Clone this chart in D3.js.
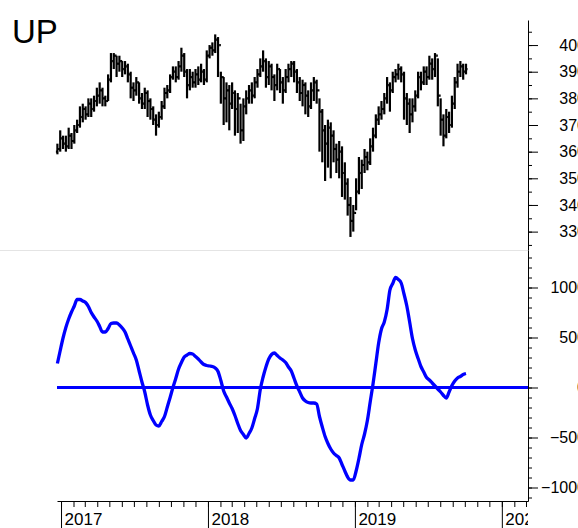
<!DOCTYPE html>
<meta charset="utf-8">
<style>

body {
    margin: 0;
    background: #fff;
}

text {
    font-family: 'Liberation Sans', Arial, sans-serif;
}

.axis text {
    font-size: 16px;
    fill: #000;
}

.axis path, .axis line {
    stroke: #000;
}

.year-axis text {
    font-size: 17px;
}

</style>
<svg id="chart" width="578" height="528"></svg>
<script src="https://d3js.org/d3.v7.min.js"></script>
<script>

    // weekly bars, first one on 23 Dec 2016
    var firstWeek = new Date(2016, 11, 23);

    var priceOpen = [
        360,361,365,363,362,366,364,368,370,373,
        376,374,378,376,379,381,383,380,379,387,
        394,396,393,394,391,392,389,384,383,386,
        380,378,382,379,376,372,370,373,377,382,
        383,388,390,388,392,396,390,385,388,386,
        389,387,390,387,396,399,398,402,400,388,
        380,383,378,382,376,380,368,377,380,383,
        381,386,389,392,394,388,392,388,385,391,
        386,383,388,391,393,390,386,382,385,381,
        377,383,386,383,375,368,363,369,366,361,
        357,360,352,348,340,334,337,345,352,355,
        358,356,362,366,372,374,376,380,385,383,
        388,389,391,389,380,378,374,377,381,388,
        386,390,388,393,391,396,381,372,366,373,
        370,378,386,390,392,390
    ];

    var priceHigh = [
        363,368,366,366,369,367,370,372,377,378,
        377,380,380,381,384,386,384,381,389,397,
        397,396,396,394,394,393,390,386,388,386,
        382,384,383,380,377,374,375,379,384,385,
        389,392,392,394,399,397,391,391,390,391,
        392,393,391,398,400,401,404,403,390,388,
        386,385,386,383,382,378,380,383,385,386,
        388,391,395,398,395,394,393,389,393,391,
        388,391,393,394,394,391,388,387,386,383,
        386,388,387,380,376,370,372,371,368,363,
        364,362,356,350,343,340,350,358,357,361,
        360,365,369,374,377,379,382,388,386,390,
        391,393,392,390,382,380,380,383,390,390,
        392,392,396,395,397,395,380,374,376,375,
        381,388,393,394,393,393
    ];

    var priceLow = [
        359,360,361,360,361,361,363,367,369,371,
        372,373,373,375,377,378,377,377,379,386,
        391,388,390,388,389,386,380,379,381,378,
        376,376,373,372,370,366,369,372,376,380,
        382,387,386,387,390,388,380,383,384,384,
        385,386,385,386,395,396,397,388,378,370,
        371,368,376,366,367,363,364,374,378,378,
        380,384,388,390,384,385,383,379,383,382,
        378,382,386,388,386,382,379,377,374,373,
        376,379,378,360,356,349,354,350,356,352,
        350,343,342,336,328,330,338,344,346,352,
        353,355,360,365,370,372,374,378,375,382,
        386,387,386,372,370,367,371,375,380,383,
        385,385,387,387,388,377,366,362,365,367,
        369,376,384,388,387,389
    ];

    var priceClose = [
        361,365,363,362,366,364,368,370,373,376,
        374,378,376,379,381,383,380,379,387,394,
        396,393,394,391,392,389,384,383,386,380,
        378,382,379,376,372,370,373,377,382,383,
        388,390,388,392,396,390,385,388,386,389,
        387,390,387,396,399,398,402,400,388,380,
        383,378,382,376,380,368,377,380,383,381,
        386,389,392,394,388,392,388,385,391,386,
        383,388,391,393,390,386,382,385,381,377,
        383,386,383,375,368,363,369,366,361,357,
        360,352,348,340,334,337,345,352,355,358,
        356,362,366,372,374,376,380,385,383,388,
        389,391,389,380,378,374,377,381,388,386,
        390,388,393,391,396,381,372,366,373,370,
        378,386,390,392,390,391
    ];

    var oscValue = [
        240,370,495,600,685,755,815,880,880,865,
        850,810,750,705,665,610,555,555,590,640,
        645,645,625,595,555,485,415,345,275,165,
        55,-45,-175,-275,-330,-375,-385,-340,-290,-195,
        -100,0,90,185,250,305,325,340,335,310,
        285,255,230,220,215,210,195,160,70,-35,
        -95,-155,-210,-280,-360,-430,-470,-505,-460,-405,
        -310,-210,-20,105,205,285,330,345,320,295,
        275,250,205,165,90,15,-45,-105,-135,-150,
        -155,-155,-165,-290,-395,-490,-560,-615,-655,-680,
        -705,-770,-835,-895,-925,-925,-835,-710,-570,-465,
        -330,-145,35,240,445,585,655,780,975,1040,
        1100,1080,1045,935,815,655,490,375,290,210,
        155,100,75,45,15,-15,-45,-80,-105,-45,
        20,65,95,110,130,140
    ];

    var priceTicks = [330, 340, 350, 360, 370, 380, 390, 400];
    var oscTicks = [-1000, -500, 0, 500, 1000];
    var yearTicks = [2017, 2018, 2019, 2020];

    var weeks = priceClose.map(function(d, i) { return d3.timeDay.offset(firstWeek, 7 * i); });

    var svg = d3.select("#chart");

    var x = d3.scaleTime()
        .domain([new Date(2016, 11, 22), new Date(2020, 2, 6)])
        .range([57, 528]);

    var yPrice = d3.scaleLinear().domain([323.1, 409.4]).range([250, 20]);
    var yOsc = d3.scaleLinear().domain([-1135, 1375]).range([501, 250]);

    // title
    svg.append("text")
        .attr("x", 12)
        .attr("y", 43)
        .style("font-size", "33px")
        .text("UP");

    // light line between the panels
    svg.append("line")
        .attr("x1", 0)
        .attr("x2", x.range()[1])
        .attr("y1", yPrice.range()[0] + 0.5)
        .attr("y2", yPrice.range()[0] + 0.5)
        .attr("stroke", "#e4e4e4");

    // price bars
    var bars = svg.append("g")
        .attr("stroke", "#000")
        .attr("stroke-width", 2.2);

    bars.selectAll(".hl")
        .data(weeks)
        .enter().append("line")
        .attr("class", "hl")
        .attr("x1", function(d) { return x(d); })
        .attr("x2", function(d) { return x(d); })
        .attr("y1", function(d, i) { return yPrice(priceHigh[i]); })
        .attr("y2", function(d, i) { return yPrice(priceLow[i]); });

    bars.selectAll(".op")
        .data(weeks)
        .enter().append("line")
        .attr("class", "op")
        .attr("x1", function(d) { return x(d) - 1.5; })
        .attr("x2", function(d) { return x(d); })
        .attr("y1", function(d, i) { return yPrice(priceOpen[i]); })
        .attr("y2", function(d, i) { return yPrice(priceOpen[i]); });

    bars.selectAll(".cl")
        .data(weeks)
        .enter().append("line")
        .attr("class", "cl")
        .attr("x1", function(d) { return x(d); })
        .attr("x2", function(d) { return x(d) + 1.5; })
        .attr("y1", function(d, i) { return yPrice(priceClose[i]); })
        .attr("y2", function(d, i) { return yPrice(priceClose[i]); });

    // oscillator
    svg.append("line")
        .attr("x1", x.range()[0])
        .attr("x2", x.range()[1])
        .attr("y1", yOsc(0))
        .attr("y2", yOsc(0))
        .attr("stroke", "#0000ff")
        .attr("stroke-width", 3);

    var oscLine = d3.line()
        .x(function(d, i) { return x(weeks[i]); })
        .y(function(d) { return yOsc(d); })
        .curve(d3.curveMonotoneX);

    svg.append("path")
        .datum(oscValue)
        .attr("d", oscLine)
        .attr("fill", "none")
        .attr("stroke", "#0000ff")
        .attr("stroke-width", 3.3)
        .attr("stroke-linejoin", "round");

    // right axes
    var rightX = x.range()[1];

    svg.append("g")
        .attr("class", "axis")
        .attr("transform", "translate(" + rightX + ",0)")
        .call(d3.axisRight(yPrice).tickValues(d3.range(325, 410, 5)).tickSize(4).tickFormat(""))
        .select(".domain").remove();

    var priceAxis = svg.append("g")
        .attr("class", "axis")
        .attr("transform", "translate(" + rightX + ",0)")
        .call(d3.axisRight(yPrice).tickValues(priceTicks).tickSize(10).tickSizeOuter(0).tickFormat(d3.format("d")));
    priceAxis.selectAll("text").attr("x", 58).attr("text-anchor", "end");

    svg.append("g")
        .attr("class", "axis")
        .attr("transform", "translate(" + rightX + ",0)")
        .call(d3.axisRight(yOsc).tickValues(d3.range(-1100, 1400, 100)).tickSize(4).tickFormat(""))
        .select(".domain").remove();

    var oscAxis = svg.append("g")
        .attr("class", "axis")
        .attr("transform", "translate(" + rightX + ",0)")
        .call(d3.axisRight(yOsc).tickValues(oscTicks).tickSize(10).tickSizeOuter(0).tickFormat(d3.format("d")));
    oscAxis.selectAll("text").attr("x", 58).attr("text-anchor", "end");

    // time axis
    var axisY = yOsc.range()[0];

    svg.append("defs").append("clipPath")
        .attr("id", "clipTime")
        .append("rect")
        .attr("x", 0).attr("y", 0)
        .attr("width", rightX).attr("height", 528);

    svg.append("g")
        .attr("class", "axis")
        .attr("transform", "translate(0," + axisY + ")")
        .call(d3.axisBottom(x).ticks(d3.timeMonth.every(1)).tickSize(6).tickSizeOuter(0).tickFormat(""));

    var yearAxis = svg.append("g")
        .attr("class", "axis year-axis")
        .attr("clip-path", "url(#clipTime)")
        .attr("transform", "translate(0," + axisY + ")")
        .call(d3.axisBottom(x)
            .tickValues(yearTicks.map(function(y) { return new Date(y, 0, 1); }))
            .tickSize(27)
            .tickFormat(d3.timeFormat("%Y")));
    yearAxis.select(".domain").remove();
    yearAxis.selectAll("text")
        .attr("x", 3)
        .attr("y", 12)
        .attr("text-anchor", "start");

</script>
